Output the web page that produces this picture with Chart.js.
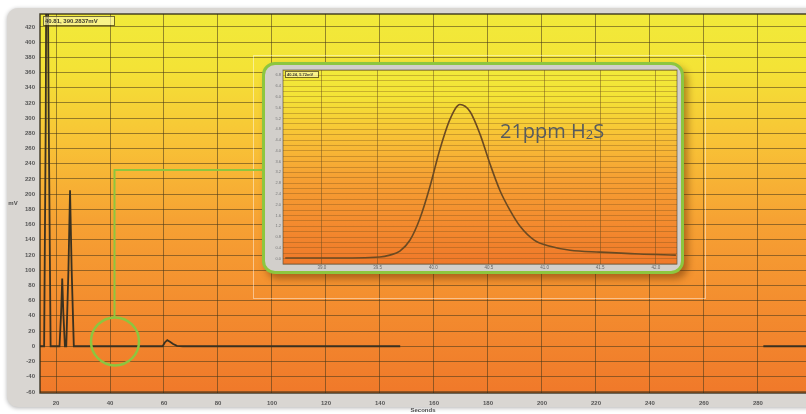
<!DOCTYPE html>
<html>
<head>
<meta charset="utf-8">
<script src="https://cdn.jsdelivr.net/npm/chart.js@4.4.1/dist/chart.umd.min.js"></script>
<style>
  body { margin:0; background:#fff; width:806px; height:414px; overflow:hidden; position:relative; font-family:"Open Sans", sans-serif; }
  #main { position:absolute; left:0; top:0; }
  #zoomBox { position:absolute; left:262px; top:62px; width:422px; height:212px; box-sizing:border-box;
             border:3px solid #8dc63f; border-radius:13px; background:#d2cfcb; overflow:hidden;
             box-shadow:4px 5px 7px rgba(90,40,0,.45); }
  #inset { position:absolute; left:0; top:0; }
  #label { position:absolute; left:500px; top:117px; font-size:20px; color:#565b5f; white-space:nowrap; }
  #label sub { font-size:13px; position:relative; top:1px; vertical-align:baseline; line-height:0; }
</style>
</head>
<body>
<canvas id="main" width="806" height="414"></canvas>
<div id="zoomBox"><canvas id="inset" width="416" height="206"></canvas></div>
<div id="label">21ppm H<sub>2</sub>S</div>

<script>
// full run, seconds / mV (first peak runs off scale)
const traceSec = [14.1, 15.6, 16.2, 16.6, 17.3, 18.0, 21.3, 21.9, 22.3, 22.7, 23.3, 23.8, 24.6, 25.2, 25.8, 26.6,
                  59.5, 60.3, 61.2, 62.2, 63.4, 64.8, 67, 147.5];
const traceMv  = [0, 0, 300, 700, 300, 0, 0, 45, 89, 45, 0, 0, 100, 205, 100, 0,
                  0, 5, 8, 6, 3, 0.5, 0, 0];
const tailSec = [282, 297.8];
const tailMv  = [0, 0];

// zoomed H2S peak
const insetSec = [38.67, 39.07, 39.52, 39.61, 39.70, 39.79, 39.88, 39.97, 40.06, 40.15, 40.24, 40.33,
                  40.42, 40.51, 40.60, 40.69, 40.78, 40.91, 41.05, 41.23, 41.50, 41.85, 42.18];
const insetMv  = [0.02, 0.02, 0.06, 0.13, 0.28, 0.68, 1.49, 2.67, 4.06, 5.17, 5.72, 5.46,
                  4.62, 3.51, 2.52, 1.79, 1.20, 0.68, 0.46, 0.31, 0.24, 0.17, 0.13];

const xTicks = [20, 40, 60, 80, 100, 120, 140, 160, 180, 200, 220, 240, 260, 280];
const yTicks = [-60, -40, -20, 0, 20, 40, 60, 80, 100, 120, 140, 160, 180, 200, 220, 240, 260, 280, 300, 320, 340, 360, 380, 400, 420];
const insetXTicks = [39, 39.5, 40, 40.5, 41, 41.5, 42];
const insetYTicks = [];
for (let i = -1; i <= 35; i++) insetYTicks.push(+(i * 0.2).toFixed(1));

const pts = (xs, ys) => xs.map((x, i) => ({ x: x, y: ys[i] }));
const tickFont = { family: 'Liberation Sans', size: 6, weight: 'bold' };

function paintGradient(ctx, a) {
  const g = ctx.createLinearGradient(0, a.top, 0, a.bottom);
  g.addColorStop(0, '#f1ea3a');
  g.addColorStop(0.14, '#f4e336');
  g.addColorStop(0.34, '#f8c236');
  g.addColorStop(0.55, '#f6a133');
  g.addColorStop(0.8, '#f38a2e');
  g.addColorStop(1, '#f0792a');
  ctx.fillStyle = g;
  ctx.fillRect(a.left, a.top, a.right - a.left, a.bottom - a.top);
}

function readout(ctx, x, y, w, h, text, size) {
  ctx.fillStyle = 'rgba(255,250,190,0.6)';
  ctx.fillRect(x, y, w, h);
  ctx.strokeStyle = 'rgba(60,50,20,0.7)';
  ctx.lineWidth = 1;
  ctx.strokeRect(x + 0.5, y + 0.5, w, h);
  ctx.fillStyle = '#3d3a30';
  ctx.font = 'bold ' + size + 'px "Liberation Sans"';
  ctx.textBaseline = 'middle';
  ctx.textAlign = 'left';
  ctx.fillText(text, x + 2, y + h / 2 + 0.5);
}

const mainDeco = {
  id: 'mainDeco',
  beforeDraw(chart) {
    const ctx = chart.ctx, a = chart.chartArea;
    ctx.save();
    ctx.fillStyle = '#fff';
    ctx.fillRect(0, 0, chart.width, chart.height);
    ctx.shadowColor = 'rgba(0,0,0,0.3)';
    ctx.shadowBlur = 4;
    ctx.shadowOffsetY = 1;
    ctx.fillStyle = '#d9d6d2';
    ctx.beginPath();
    ctx.roundRect(7, 8, 840, 399, 11);
    ctx.fill();
    ctx.shadowColor = 'transparent';
    paintGradient(ctx, a);
    ctx.restore();
  },
  afterDraw(chart) {
    const ctx = chart.ctx, a = chart.chartArea;
    const xs = chart.scales.x, ys = chart.scales.y;
    ctx.save();
    // plot frame
    ctx.strokeStyle = 'rgba(45,38,20,0.85)';
    ctx.lineWidth = 1.5;
    ctx.strokeRect(a.left, a.top, a.right - a.left + 2, a.bottom - a.top);
    // faint panel behind the zoom box
    ctx.strokeStyle = 'rgba(255,255,255,0.45)';
    ctx.lineWidth = 1;
    ctx.strokeRect(253.5, 55.5, 452, 243);
    readout(ctx, a.left + 3, a.top + 2, 71, 9, '40.81, 390.2837mV', 6);
    // axis titles
    ctx.fillStyle = '#4e4e4e';
    ctx.font = 'bold 6px "Liberation Sans"';
    ctx.textAlign = 'center';
    ctx.textBaseline = 'middle';
    ctx.fillText('mV', 13, 203);
    ctx.fillText('Seconds', 423, 410);
    // highlight of the H2S peak
    const cx = xs.getPixelForValue(41.85), cy = ys.getPixelForValue(6.3);
    ctx.strokeStyle = '#8dc63f';
    ctx.lineWidth = 2.5;
    ctx.beginPath();
    ctx.arc(cx, cy, 24, 0, Math.PI * 2);
    ctx.stroke();
    ctx.lineWidth = 2;
    ctx.beginPath();
    ctx.moveTo(cx - 0.5, cy - 24);
    ctx.lineTo(cx - 0.5, 170);
    ctx.lineTo(264, 170);
    ctx.stroke();
    ctx.restore();
  }
};

new Chart(document.getElementById('main'), {
  type: 'scatter',
  data: {
    datasets: [
      { data: pts(traceSec, traceMv), showLine: true, borderColor: '#3a3120', borderWidth: 1.8, pointRadius: 0, tension: 0 },
      { data: pts(tailSec, tailMv), showLine: true, borderColor: '#3a3120', borderWidth: 1.8, pointRadius: 0 }
    ]
  },
  options: {
    responsive: false,
    animation: false,
    layout: { padding: { left: 8, top: 14, right: 0, bottom: 0 } },
    plugins: { legend: { display: false }, tooltip: { enabled: false } },
    scales: {
      x: {
        type: 'linear', min: 14.07, max: 297.8,
        afterBuildTicks: s => { s.ticks = xTicks.map(v => ({ value: v })); },
        afterFit: s => { s.height = 21; },
        grid: { color: 'rgba(70,55,25,0.55)', lineWidth: 1, tickLength: 0 },
        border: { display: false },
        ticks: { color: '#555', font: tickFont, padding: 7, maxRotation: 0, autoSkip: false }
      },
      y: {
        min: -61.5, max: 437,
        afterBuildTicks: s => { s.ticks = yTicks.map(v => ({ value: v })); },
        afterFit: s => { s.width = 32; },
        grid: { color: 'rgba(70,55,25,0.55)', lineWidth: 1, tickLength: 0 },
        border: { display: false },
        ticks: { color: '#555', font: tickFont, padding: 5, autoSkip: false }
      }
    }
  },
  plugins: [mainDeco]
});

const insetDeco = {
  id: 'insetDeco',
  beforeDraw(chart) {
    chart.ctx.save();
    paintGradient(chart.ctx, chart.chartArea);
    chart.ctx.restore();
  },
  afterDraw(chart) {
    const ctx = chart.ctx, a = chart.chartArea;
    ctx.save();
    ctx.strokeStyle = 'rgba(80,70,50,0.6)';
    ctx.lineWidth = 1;
    ctx.strokeRect(a.left, a.top, a.right - a.left, a.bottom - a.top);
    readout(ctx, a.left + 2, a.top + 1, 33, 6, '40.24, 5.72mV', 4);
    ctx.restore();
  }
};

new Chart(document.getElementById('inset'), {
  type: 'scatter',
  data: {
    datasets: [
      { data: pts(insetSec, insetMv), showLine: true, borderColor: '#6b4a22', borderWidth: 1.6, pointRadius: 0, cubicInterpolationMode: 'monotone' }
    ]
  },
  options: {
    responsive: false,
    animation: false,
    layout: { padding: { left: 0, top: 5, right: 4, bottom: 0 } },
    plugins: { legend: { display: false }, tooltip: { enabled: false } },
    scales: {
      x: {
        type: 'linear', min: 38.65, max: 42.19,
        afterBuildTicks: s => { s.ticks = insetXTicks.map(v => ({ value: v })); },
        afterFit: s => { s.height = 7; },
        grid: { color: 'rgba(95,70,30,0.45)', lineWidth: 1, tickLength: 0 },
        border: { display: false },
        ticks: { color: '#666', font: { family: 'Liberation Sans', size: 4.5 }, padding: 1, maxRotation: 0, autoSkip: false }
      },
      y: {
        min: -0.2, max: 7.0,
        afterBuildTicks: s => { s.ticks = insetYTicks.map(v => ({ value: v })); },
        afterFit: s => { s.width = 18; },
        grid: { color: 'rgba(120,80,25,0.35)', lineWidth: 1, tickLength: 0 },
        border: { display: false },
        ticks: {
          color: '#777', font: { family: 'Liberation Sans', size: 4 }, padding: 2, autoSkip: false,
          callback: (v, i) => (i % 2 === 1 ? v.toFixed(1) : '')
        }
      }
    }
  },
  plugins: [insetDeco]
});
</script>
</body>
</html>
